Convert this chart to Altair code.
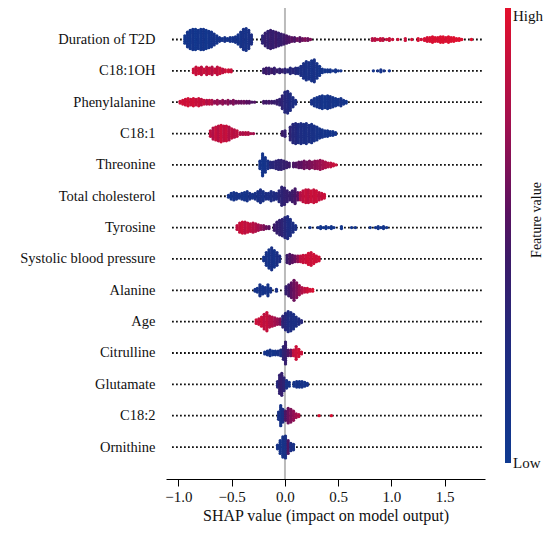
import json
import altair as alt
import pandas as pd

# ---- data (SHAP value bin, number of points, feature value 0=low..1=high)
features = ["Duration of T2D", "C18:1OH", "Phenylalanine", "C18:1", "Threonine",
            "Total cholesterol", "Tyrosine", "Systolic blood pressure", "Alanine",
            "Age", "Citrulline", "Glutamate", "C18:2", "Ornithine"]

duration_t2d = [
    (-0.94, 5, .05), (-0.915, 9, .08), (-0.89, 11, .06), (-0.865, 12, .1), (-0.84, 12, .05),
    (-0.815, 11, .08), (-0.79, 12, .06), (-0.765, 12, .1), (-0.74, 11, .05), (-0.715, 10, .08),
    (-0.69, 9, .1), (-0.665, 7, .12), (-0.64, 5, .1),
    (-0.615, 3, .12), (-0.59, 2, .1), (-0.565, 3, .12), (-0.54, 2, .1), (-0.515, 3, .12),
    (-0.49, 3, .1), (-0.465, 4, .12),
    (-0.44, 6, .1), (-0.415, 9, .12), (-0.39, 12, .15), (-0.365, 13, .12), (-0.34, 11, .15), (-0.315, 6, .2),
    (-0.21, 5, .35), (-0.185, 8, .4), (-0.16, 10, .38), (-0.135, 11, .42), (-0.11, 10, .4),
    (-0.085, 9, .45), (-0.06, 8, .4), (-0.035, 7, .42), (-0.01, 6, .45), (0.015, 5, .48),
    (0.04, 4, .5), (0.065, 3, .55), (0.09, 3, .5), (0.115, 2, .6), (0.14, 3, .55), (0.165, 2, .6),
    (0.19, 2, .65), (0.215, 2, .6), (0.24, 1, .65),
    (0.82, 2, .8), (0.845, 2, .85), (0.87, 1, .82), (0.895, 2, .88), (0.92, 2, .85), (0.955, 1, .9),
    (0.98, 2, .88), (1.01, 1, .9),
    (1.06, 1, .92), (1.13, 2, .9), (1.19, 1, .93), (1.25, 2, .95), (1.28, 1, .92), (1.31, 2, .95),
    (1.335, 3, .93), (1.36, 3, .96), (1.385, 4, .95), (1.41, 3, .97), (1.435, 3, .95), (1.46, 4, .96),
    (1.485, 4, .97), (1.51, 3, .95), (1.535, 4, .97), (1.56, 3, .96), (1.585, 3, .98), (1.61, 2, .97),
    (1.635, 2, .98), (1.66, 1, .97), (1.75, 1, .98)]

c18_1oh = [
    (-0.86, 3, .9), (-0.835, 5, .88), (-0.81, 4, .92), (-0.785, 5, .85), (-0.76, 3, .9),
    (-0.735, 5, .85), (-0.71, 4, .9), (-0.685, 5, .82), (-0.66, 3, .88), (-0.635, 5, .85),
    (-0.61, 4, .9), (-0.585, 3, .85), (-0.56, 2, .9), (-0.53, 2, .92), (-0.505, 2, .9),
    (-0.20, 3, .42), (-0.175, 4, .45), (-0.15, 4, .4), (-0.125, 3, .45), (-0.10, 4, .4),
    (-0.075, 2, .42), (-0.05, 3, .38), (-0.025, 2, .4), (0.0, 3, .35),
    (0.025, 2, .32), (0.05, 4, .3), (0.075, 3, .32), (0.10, 4, .28), (0.125, 4, .25),
    (0.15, 6, .2), (0.175, 9, .18), (0.20, 11, .15), (0.225, 10, .17), (0.25, 12, .12),
    (0.275, 13, .15), (0.30, 9, .12), (0.325, 6, .1),
    (0.35, 3, .1), (0.375, 2, .08), (0.40, 2, .1), (0.425, 2, .08), (0.45, 1, .1), (0.475, 2, .08),
    (0.50, 1, .1), (0.525, 1, .08),
    (0.83, 1, .1), (0.87, 1, .12), (0.90, 2, .1), (0.93, 1, .12), (0.98, 1, .1)]

phenylalanine = [
    (-0.985, 2, .9), (-0.96, 3, .92), (-0.935, 4, .9), (-0.91, 5, .93), (-0.885, 4, .9),
    (-0.86, 5, .92), (-0.835, 4, .88), (-0.81, 5, .9), (-0.785, 4, .85), (-0.76, 3, .88),
    (-0.735, 3, .8), (-0.71, 3, .85), (-0.685, 3, .78),
    (-0.66, 2, .7), (-0.635, 3, .72), (-0.61, 2, .68), (-0.585, 3, .7), (-0.56, 2, .65),
    (-0.535, 3, .68), (-0.51, 2, .62), (-0.485, 3, .65), (-0.46, 2, .6), (-0.435, 2, .62),
    (-0.41, 2, .58), (-0.385, 2, .6), (-0.36, 2, .55), (-0.335, 2, .55), (-0.31, 1, .5), (-0.285, 1, .52),
    (-0.20, 2, .48), (-0.175, 2, .45), (-0.15, 2, .48), (-0.125, 2, .45), (-0.10, 2, .42), (-0.075, 3, .42),
    (-0.05, 4, .38), (-0.025, 8, .35), (0.0, 12, .3), (0.025, 13, .28), (0.05, 10, .25),
    (0.075, 6, .22), (0.10, 3, .2),
    (0.25, 3, .15), (0.275, 5, .12), (0.30, 6, .1), (0.325, 7, .12), (0.35, 8, .1), (0.375, 7, .08),
    (0.40, 8, .1), (0.425, 7, .12), (0.45, 6, .1), (0.475, 5, .08), (0.50, 4, .1), (0.525, 5, .12),
    (0.55, 3, .1), (0.575, 2, .08)]

c18_1 = [
    (-0.70, 4, .85), (-0.675, 7, .8), (-0.65, 8, .88), (-0.625, 9, .82), (-0.60, 10, .9),
    (-0.575, 9, .85), (-0.55, 9, .88), (-0.525, 8, .8), (-0.50, 6, .85), (-0.475, 5, .82), (-0.45, 4, .85),
    (-0.42, 2, .8), (-0.395, 2, .78), (-0.37, 2, .82), (-0.345, 2, .8), (-0.32, 1, .78), (-0.295, 1, .75),
    (-0.025, 3, .45), (0.0, 4, .4),
    (0.05, 8, .35), (0.075, 11, .3), (0.10, 12, .28), (0.125, 11, .25), (0.15, 12, .22),
    (0.175, 11, .2), (0.20, 12, .18), (0.225, 10, .2), (0.25, 11, .15), (0.275, 9, .15),
    (0.30, 8, .12), (0.325, 6, .12), (0.35, 5, .1), (0.375, 4, .1), (0.40, 4, .08),
    (0.425, 3, .1), (0.45, 3, .08), (0.475, 2, .1)]

threonine = [
    (-0.235, 5, .1), (-0.21, 13, .08), (-0.185, 9, .1), (-0.16, 5, .15),
    (-0.135, 4, .3), (-0.11, 4, .32), (-0.085, 5, .35), (-0.06, 6, .35), (-0.035, 6, .38),
    (-0.01, 5, .4), (0.015, 4, .42), (0.04, 3, .45),
    (0.08, 3, .5), (0.105, 3, .52), (0.13, 4, .55), (0.155, 4, .55), (0.18, 5, .6), (0.205, 4, .6),
    (0.23, 5, .62), (0.255, 4, .65), (0.28, 5, .68), (0.305, 5, .7), (0.33, 6, .72), (0.355, 5, .75),
    (0.38, 4, .78), (0.405, 3, .8), (0.43, 3, .85), (0.455, 2, .88), (0.48, 1, .9)]

total_cholesterol = [
    (-0.53, 2, .1), (-0.505, 4, .08), (-0.48, 5, .1), (-0.455, 4, .12), (-0.43, 3, .1),
    (-0.405, 4, .12), (-0.38, 5, .1), (-0.355, 6, .12), (-0.33, 4, .15), (-0.305, 3, .12),
    (-0.28, 4, .15), (-0.255, 6, .15), (-0.23, 8, .18), (-0.205, 6, .15), (-0.18, 4, .2),
    (-0.155, 4, .2), (-0.13, 6, .22), (-0.105, 5, .25), (-0.08, 4, .25),
    (-0.055, 7, .3), (-0.03, 11, .35), (-0.005, 10, .38), (0.02, 7, .4), (0.045, 5, .42),
    (0.07, 7, .45), (0.095, 9, .48), (0.12, 5, .55),
    (0.145, 5, .8), (0.17, 7, .85), (0.195, 8, .88), (0.22, 8, .85), (0.245, 7, .9),
    (0.27, 8, .88), (0.295, 7, .9), (0.32, 5, .85), (0.345, 4, .88), (0.37, 3, .9)]

tyrosine = [
    (-0.45, 3, .85), (-0.425, 6, .88), (-0.40, 7, .9), (-0.375, 7, .85), (-0.35, 6, .88),
    (-0.325, 5, .85), (-0.30, 6, .82), (-0.275, 5, .8), (-0.25, 4, .75), (-0.225, 3, .7),
    (-0.20, 3, .65), (-0.175, 2, .6), (-0.15, 2, .55),
    (-0.10, 4, .45), (-0.075, 7, .4), (-0.05, 9, .38), (-0.025, 10, .35), (0.0, 12, .3),
    (0.025, 13, .25), (0.05, 10, .22), (0.075, 6, .2), (0.10, 3, .18),
    (0.235, 1, .08), (0.31, 1, .08), (0.335, 2, .06), (0.36, 1, .08), (0.385, 2, .06), (0.41, 1, .08),
    (0.435, 2, .06), (0.46, 1, .08), (0.53, 2, .06), (0.625, 1, .08), (0.66, 1, .06), (0.80, 1, .08),
    (0.85, 1, .06), (0.875, 2, .08), (0.90, 1, .06), (0.925, 2, .08), (0.955, 1, .06)]

systolic_bp = [
    (-0.20, 3, .1), (-0.175, 8, .12), (-0.15, 11, .1), (-0.125, 13, .15), (-0.10, 10, .12),
    (-0.075, 8, .18), (-0.05, 4, .2),
    (0.02, 5, .45), (0.045, 6, .5), (0.07, 5, .55), (0.095, 4, .6), (0.12, 4, .7),
    (0.145, 4, .85), (0.17, 5, .88), (0.195, 5, .9), (0.22, 7, .92), (0.245, 8, .9),
    (0.27, 6, .92), (0.295, 4, .9), (0.32, 3, .92)]

alanine = [
    (-0.28, 2, .1), (-0.26, 3, .1), (-0.235, 7, .12), (-0.21, 5, .1), (-0.185, 4, .12),
    (-0.16, 7, .1), (-0.135, 3, .12), (-0.08, 2, .15),
    (0.01, 5, .4), (0.035, 7, .45), (0.06, 9, .55), (0.085, 12, .6), (0.11, 9, .65),
    (0.135, 6, .72), (0.16, 4, .8), (0.185, 3, .85), (0.21, 3, .9), (0.235, 2, .92), (0.26, 2, .95)]

age = [
    (-0.27, 3, .9), (-0.245, 4, .88), (-0.22, 6, .9), (-0.195, 9, .85), (-0.17, 11, .88),
    (-0.145, 7, .82), (-0.12, 6, .8), (-0.095, 5, .75), (-0.07, 4, .72), (-0.045, 4, .65),
    (-0.02, 7, .35), (0.005, 10, .3), (0.03, 12, .25), (0.055, 11, .22), (0.08, 9, .2),
    (0.105, 6, .2), (0.13, 4, .25), (0.155, 2, .3)]

citrulline = [
    (-0.19, 2, .1), (-0.165, 3, .1), (-0.14, 4, .12), (-0.115, 3, .1), (-0.09, 3, .12),
    (-0.065, 3, .15), (-0.04, 4, .2),
    (-0.015, 8, .35), (0.005, 13, .4), (0.03, 4, .5), (0.055, 4, .6),
    (0.08, 4, .85), (0.105, 8, .9), (0.13, 5, .92), (0.155, 2, .9)]

glutamate = [
    (-0.07, 4, .3), (-0.05, 11, .38), (-0.03, 13, .4), (-0.01, 8, .35),
    (0.015, 5, .15), (0.04, 3, .12),
    (0.085, 3, .1), (0.11, 4, .12), (0.135, 4, .1), (0.16, 4, .12), (0.185, 3, .1), (0.21, 2, .12)]

c18_2 = [
    (-0.06, 5, .15), (-0.04, 12, .12), (-0.02, 8, .2),
    (0.005, 6, .5), (0.03, 9, .6), (0.055, 8, .65), (0.08, 6, .7), (0.105, 3, .75), (0.13, 2, .8),
    (0.32, 1, .95), (0.435, 1, .95)]

ornithine = [
    (-0.07, 3, .12), (-0.045, 8, .1), (-0.02, 12, .12), (0.005, 13, .15), (0.03, 8, .5),
    (0.055, 5, .2), (0.08, 4, .15)]

x_ticks = [-1.0, -0.5, 0.0, 0.5, 1.0, 1.5]
colour_stops = [0, 0.25, 0.45, 0.55, 0.75, 1]
colour_range = ["#0f3a90", "#1f2b80", "#3c1a68", "#5a1160", "#a3104e", "#e4102c"]
legend_texts = ["High", "Low", "Feature value"]

all_bins = [duration_t2d, c18_1oh, phenylalanine, c18_1, threonine, total_cholesterol,
            tyrosine, systolic_bp, alanine, age, citrulline, glutamate, c18_2, ornithine]

# ---- beeswarm layout: stack the points of each bin symmetrically around the row
STACK = 0.058  # vertical spacing between stacked points, in row units
records = []
for r, (name, bins) in enumerate(zip(features, all_bins)):
    for x, n, c in bins:
        for i in range(n):
            records.append({"feature": name, "shap": x,
                            "ypos": r + (i - (n - 1) / 2) * STACK, "value": c})
points = pd.DataFrame(records)
rows_df = pd.DataFrame({"row": list(range(len(features)))})
zero_df = pd.DataFrame({"zero": [0.0]})

FONT = "Liberation Serif"
xscale = alt.Scale(domain=[-1.117, 1.878], nice=False, zero=False)
yscale = alt.Scale(domain=[-0.75, 14.02], reverse=True, nice=False, zero=False)
label_expr = json.dumps(features) + "[datum.value]"

yaxis = alt.Axis(values=list(range(len(features))), labelExpr=label_expr,
                 domain=False, ticks=False, tickSize=0, grid=False,
                 labelPadding=11, labelFontSize=14.5, labelFont=FONT,
                 labelColor="#111111", labelBaseline="middle", title="")
xaxis = alt.Axis(values=x_ticks, format=".1f", grid=False, tickSize=7,
                 domainColor="#000000", tickColor="#000000", labelPadding=3,
                 labelFontSize=15, labelFont=FONT, labelColor="#111111",
                 title="SHAP value (impact on model output)", titleFont=FONT,
                 titleFontSize=16, titleFontWeight="normal",
                 titleColor="#111111", titlePadding=3)

lines = alt.Chart(rows_df).mark_rule(
    color="#111111", strokeWidth=1.8, strokeDash=[1.8, 2.2]
).encode(
    y=alt.Y("row:Q", scale=yscale, axis=yaxis),
    x=alt.value(6), x2=alt.value(318),
)

zero = alt.Chart(zero_df).mark_rule(color="#bbbbbb", strokeWidth=2).encode(
    x=alt.X("zero:Q", scale=xscale, axis=xaxis),
    y=alt.value(-9), y2=alt.value(463),
)

dots = alt.Chart(points).mark_circle(size=11, opacity=1).encode(
    x=alt.X("shap:Q", scale=xscale, axis=xaxis),
    y=alt.Y("ypos:Q", scale=yscale, axis=yaxis),
    color=alt.Color("value:Q", title=None,
                    scale=alt.Scale(domain=colour_stops, range=colour_range, interpolate="rgb"),
                    legend=alt.Legend(orient="none", legendX=339, legendY=-9,
                                      direction="vertical", gradientLength=456,
                                      gradientThickness=6, gradientStrokeWidth=0,
                                      values=[0, 1], labelExpr="''", labelOpacity=0)),
)

high_txt = alt.Chart(pd.DataFrame({"t": [legend_texts[0]]})).mark_text(
    font=FONT, fontSize=15, align="left", baseline="middle", color="#111111"
).encode(text="t:N", x=alt.value(347), y=alt.value(0))

low_txt = alt.Chart(pd.DataFrame({"t": [legend_texts[1]]})).mark_text(
    font=FONT, fontSize=15, align="left", baseline="middle", color="#111111"
).encode(text="t:N", x=alt.value(347), y=alt.value(447))

ftitle = alt.Chart(pd.DataFrame({"t": [legend_texts[2]]})).mark_text(
    angle=270, font=FONT, fontSize=14, align="center", baseline="middle", color="#111111"
).encode(text="t:N", x=alt.value(371), y=alt.value(204))

chart = alt.layer(lines, zero, dots, high_txt, low_txt, ftitle).properties(
    width=319, height=463,
    autosize=alt.AutoSizeParams(type="none"),
    padding={"left": 158, "top": 8, "right": 59, "bottom": 48},
).configure_view(stroke=None)

chart.save("out.html", embed_options={"renderer": "svg", "actions": False})
